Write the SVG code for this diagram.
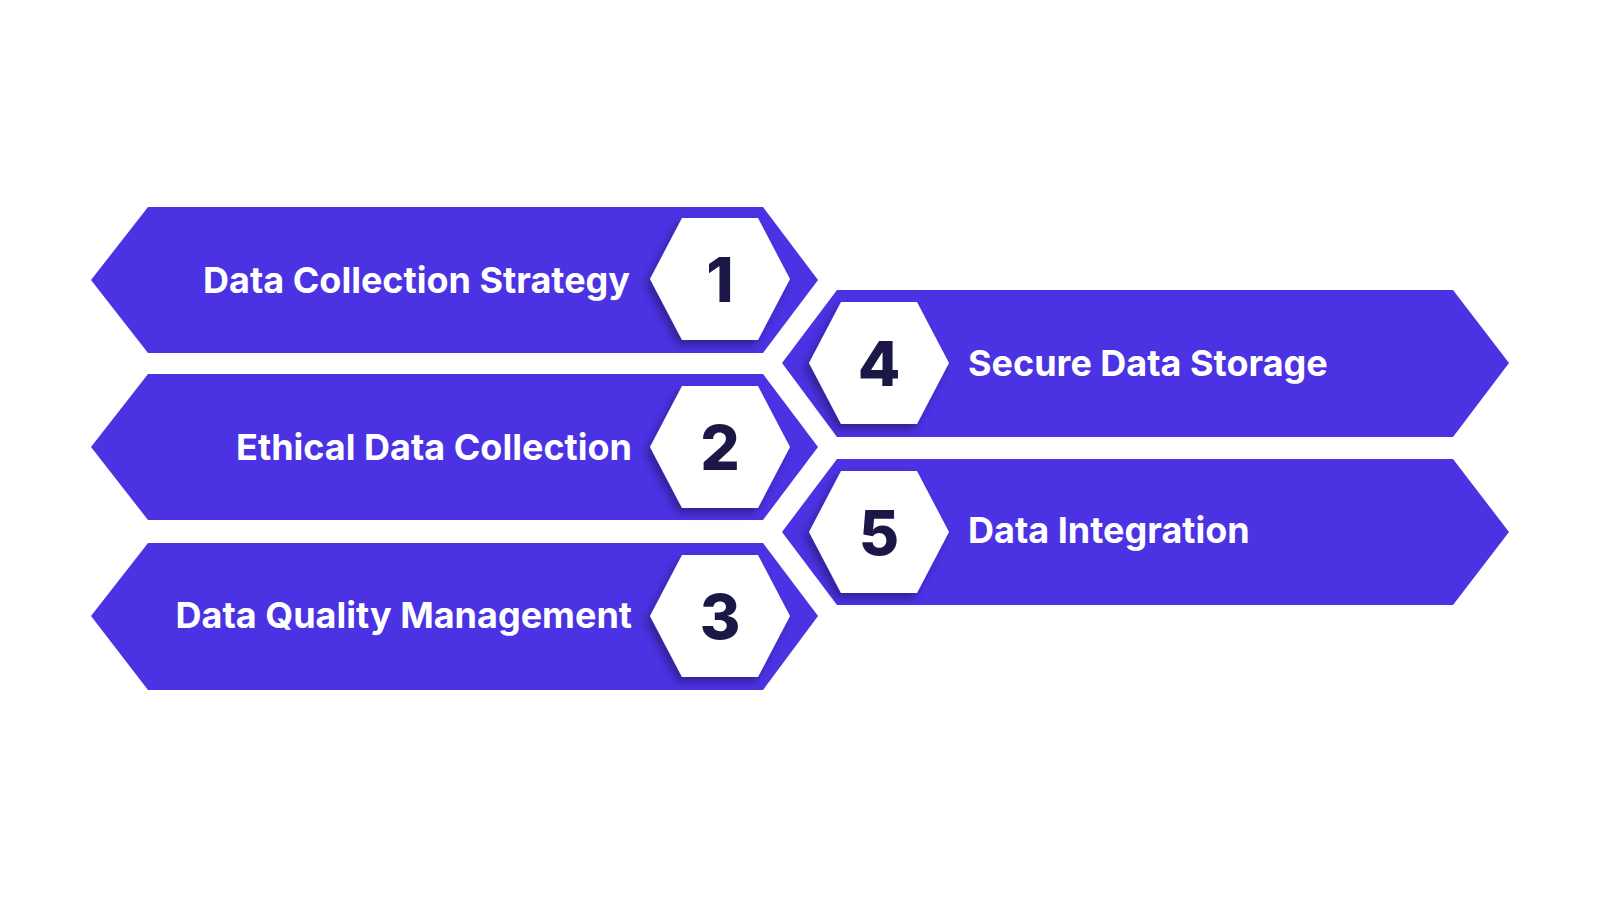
<svg xmlns="http://www.w3.org/2000/svg" width="1600" height="900" viewBox="0 0 1600 900">
<style>
.ban{fill:#4b32e3}
.hex{fill:#fff;filter:url(#sh)}
.lbl{font-family:Inter,"Liberation Sans",sans-serif;font-weight:700;font-size:36px;fill:#fff}
.num{font-family:Inter,"Liberation Sans",sans-serif;font-weight:800;font-size:62px;fill:#1b1747;text-anchor:middle}
</style>
<defs>
<filter id="sh" x="-30%" y="-30%" width="160%" height="160%"><feDropShadow dx="-4" dy="5" stdDeviation="4" flood-color="#000" flood-opacity="0.35"/></filter>
<polygon id="hx" points="-70,0 -38,-61 38,-61 70,0 38,61 -38,61"/>
</defs>
<rect width="1600" height="900" fill="#fff"/>
<g id="node1"><polygon class="ban" points="91,280 148,207 763,207 818,280 763,353 148,353"/><use href="#hx" class="hex" x="720" y="279"/><text class="lbl" x="630" y="293" text-anchor="end">Data Collection Strategy</text><text class="num" x="720" y="302">1</text></g>
<g id="node2"><polygon class="ban" points="91,447 148,374 763,374 818,447 763,520 148,520"/><use href="#hx" class="hex" x="720" y="447"/><text class="lbl" x="632" y="460" text-anchor="end">Ethical Data Collection</text><text class="num" x="720" y="470">2</text></g>
<g id="node3"><polygon class="ban" points="91,616 148,543 763,543 818,616 763,690 148,690"/><use href="#hx" class="hex" x="720" y="616"/><text class="lbl" x="632" y="628" text-anchor="end">Data Quality Management</text><text class="num" x="720" y="639">3</text></g>
<g id="node4"><polygon class="ban" points="782,363 837,290 1453,290 1509,363 1453,437 837,437"/><use href="#hx" class="hex" x="879" y="363"/><text class="lbl" x="968" y="376">Secure Data Storage</text><text class="num" x="879" y="386">4</text></g>
<g id="node5"><polygon class="ban" points="782,532 837,459 1453,459 1509,532 1453,605 837,605"/><use href="#hx" class="hex" x="879" y="532"/><text class="lbl" x="968" y="543">Data Integration</text><text class="num" x="879" y="555">5</text></g>
<g id="connectors"/>
</svg>
